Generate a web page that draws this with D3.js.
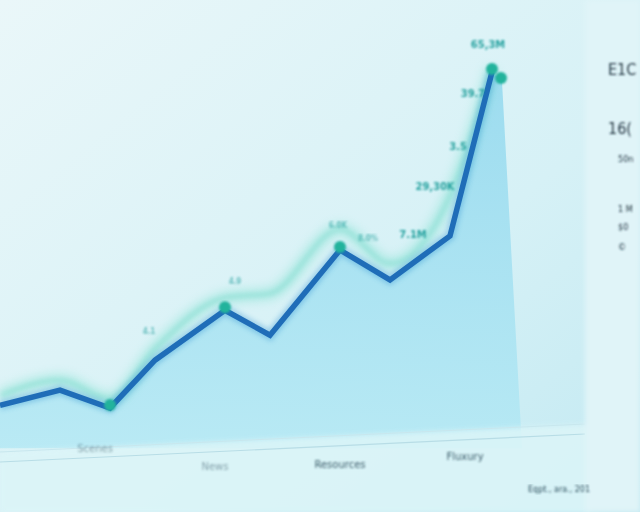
<!DOCTYPE html>
<html><head><meta charset="utf-8">
<script src="https://cdn.jsdelivr.net/npm/d3@7"></script>
<style>html,body{margin:0;padding:0;overflow:hidden;background:#e4f5f8;}</style>
</head><body>
<script>
// ---- data ----
const weeks   = [0, 6, 11, 15.5, 22.5, 27, 34, 39, 45, 49.2];
const values  = [6.4, 9.2, 5.9, 14.7, 23.9, 19.3, 35.0, 29.5, 37.6, 67.8];
const glowVals= [8.2, 11.0, 7.6, 16.8, 26.2, 27.0, 38.8, 32.5, 45.0, 68.5];
const pointLabels = [
  {i:9, text:"65,3M", dx:-4,  v:72.2},
  {i:9, text:"39.7",  dx:-19, v:63.2},
  {i:9, text:"3.5",   dx:-34, v:53.4},
  {i:8, text:"29,30K",dx:-15, v:46.0},
  {i:8, text:"7.1M",  dx:-37, v:37.2},
  {i:6, text:"6.0K",  dx:-2,  v:39.0},
  {i:6, text:"8.0%",  dx:28,  v:36.6},
  {i:4, text:"4.9",   dx:10,  v:28.8},
  {i:3, text:"4.1",   dx:-6,  v:19.6}
];
const axisLabels = [{x:9.5,t:"Scenes"},{x:21.5,t:"News"},{x:34,t:"Resources"},{x:46.5,t:"Fluxury"}];
const sideLabels = ["E1C","16(","50n","1 M","$0","\u00a9"];

const W=640,H=512;
const svg=d3.select("body").append("svg").attr("width",W).attr("height",H);
const defs=svg.append("defs");
const bg=defs.append("linearGradient").attr("id","bg").attr("x1",0).attr("y1",0).attr("x2",1).attr("y2",1);
bg.append("stop").attr("offset","0%").attr("stop-color","#eaf7f9");
bg.append("stop").attr("offset","60%").attr("stop-color","#d6f1f6");
bg.append("stop").attr("offset","100%").attr("stop-color","#c2e9f2");
const ag=defs.append("linearGradient").attr("id","ag").attr("x1",0).attr("y1",0).attr("x2",0).attr("y2",1);
ag.append("stop").attr("offset","0%").attr("stop-color","#92d8ee");
ag.append("stop").attr("offset","100%").attr("stop-color","#b3e8f4");
defs.append("filter").attr("id","b1").append("feGaussianBlur").attr("stdDeviation",0.8);
defs.append("filter").attr("id","b2").append("feGaussianBlur").attr("stdDeviation",2.5);
defs.append("filter").attr("id","b4").append("feGaussianBlur").attr("stdDeviation",5);

svg.append("rect").attr("width",W).attr("height",H).attr("fill","url(#bg)");

const x=d3.scaleLinear().domain([0,49.2]).range([0,492]);
const y=d3.scaleLinear().domain([0,70]).range([440,60]);
const data=weeks.map((w,i)=>({w,v:values[i],g:glowVals[i]}));

// area
svg.append("path").datum(data.concat([{w:50.2,v:66},{w:52.2,v:-1.5}]))
  .attr("d",d3.area().x(d=>x(d.w)).y0(y(-1.5)).y1(d=>y(d.v)))
  .attr("fill","url(#ag)").attr("opacity",0.85);

// bottom strip
svg.append("path").attr("d",`M0,${H} L0,452 L590,424 L590,${H} Z`).attr("fill","#dcf5f8").attr("opacity",0.85).attr("filter","url(#b2)");
svg.append("line").attr("x1",0).attr("y1",462).attr("x2",585).attr("y2",434).attr("stroke","#b8dde6").attr("stroke-width",1.2);
svg.append("line").attr("x1",0).attr("y1",452).attr("x2",585).attr("y2",424).attr("stroke","#c8e7ee").attr("stroke-width",1);

// right panel
svg.append("rect").attr("x",585).attr("y",0).attr("width",55).attr("height",H).attr("fill","#e0f4f8").attr("filter","url(#b2)");
const sideY=[75,134,162,212,230,250];
svg.selectAll(".side").data(sideLabels).join("text")
  .attr("x",(d,i)=>i<2?608:618).attr("y",(d,i)=>sideY[i])
  .attr("font-family","DejaVu Sans Condensed, DejaVu Sans, sans-serif").attr("font-size",(d,i)=>i<2?16:9)
  .attr("fill","#233542").attr("filter","url(#b1)").text(d=>d);
svg.append("line").attr("x1",612).attr("x2",636).attr("y1",92).attr("y2",92).attr("stroke","#7a96a3").attr("stroke-width",1).attr("filter","url(#b1)");

// glow series
const line=d3.line().x(d=>x(d.w)).y(d=>y(d.v));
const gline=d3.line().x(d=>x(d.w)).y(d=>y(d.g)).curve(d3.curveMonotoneX);
svg.append("path").datum(data).attr("d",gline).attr("fill","none")
  .attr("stroke","#7fe0cf").attr("stroke-width",14).attr("opacity",0.4).attr("filter","url(#b4)");
svg.append("path").datum(data).attr("d",gline).attr("fill","none")
  .attr("stroke","#5fd3c0").attr("stroke-width",4).attr("opacity",0.4).attr("filter","url(#b2)");

// main line
svg.append("path").datum(data).attr("d",line).attr("fill","none")
  .attr("stroke","#2a8fd0").attr("stroke-width",10).attr("opacity",0.35).attr("filter","url(#b2)");
svg.append("path").datum(data).attr("d",line).attr("fill","none")
  .attr("stroke","#1f6db8").attr("stroke-width",5.5).attr("stroke-linejoin","miter");

// dots
svg.selectAll(".dot").data([data[2],data[4],data[6],data[9]]).join("circle")
  .attr("cx",d=>x(d.w)).attr("cy",d=>y(d.v)-3).attr("r",6)
  .attr("fill","#23b39c").attr("filter","url(#b1)");
svg.append("circle").attr("cx",x(49.2)+9).attr("cy",y(67.8)+6).attr("r",6).attr("fill","#23b39c").attr("filter","url(#b1)");

// point labels
svg.selectAll(".pl").data(pointLabels).join("text")
  .attr("x",d=>x(data[d.i].w)+d.dx).attr("y",d=>y(d.v))
  .attr("text-anchor","middle").attr("font-family","DejaVu Sans Condensed, DejaVu Sans, sans-serif")
  .attr("font-size",d=>d.i>=8?11:8).attr("font-weight","bold")
  .attr("fill","#1f9e9b").attr("opacity",d=>d.i>=8?0.95:0.6).attr("filter","url(#b1)").text(d=>d.text);

// axis labels
svg.selectAll(".al").data(axisLabels).join("text")
  .attr("x",d=>x(d.x)).attr("y",(d,i)=>[452,470,468,460][i])
  .attr("text-anchor","middle").attr("font-family","DejaVu Sans, sans-serif").attr("font-size",10)
  .attr("fill","#2c4d5c").attr("opacity",(d,i)=>i<2?0.5:0.9).attr("filter","url(#b1)").text(d=>d.t);
svg.append("text").attr("x",590).attr("y",492).attr("text-anchor","end")
  .attr("font-family","DejaVu Sans, sans-serif").attr("font-size",8).attr("fill","#2c4d5c")
  .attr("filter","url(#b1)").text("Eqpt., ara., 201");
</script>
</body></html>
